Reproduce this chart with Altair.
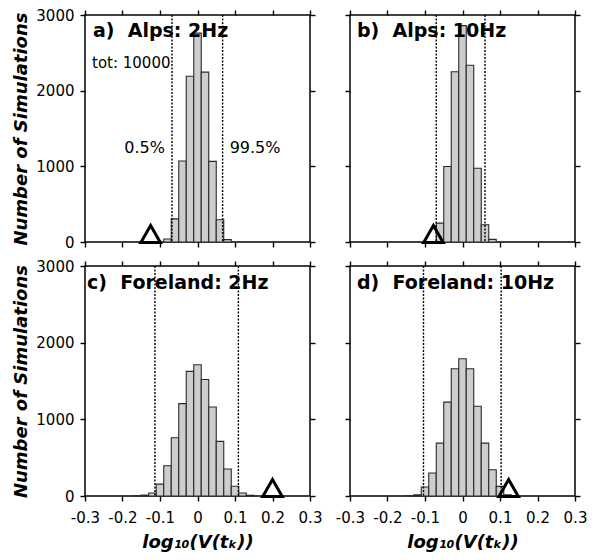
import altair as alt
import pandas as pd

# ---------------- data ----------------
BIN_WIDTH = 0.02

A_CENTERS = [-0.08, -0.06, -0.04, -0.02, 0.0, 0.02, 0.04, 0.06, 0.08]
A_COUNTS = [40, 305, 1070, 2190, 2760, 2245, 1065, 295, 32]

B_CENTERS = [-0.06, -0.04, -0.02, 0.0, 0.02, 0.04, 0.06, 0.08]
B_COUNTS = [250, 997, 2250, 2860, 2335, 975, 228, 35]

C_CENTERS = [-0.16, -0.14, -0.12, -0.10, -0.08, -0.06, -0.04, -0.02, 0.0,
             0.02, 0.04, 0.06, 0.08, 0.10, 0.12, 0.14]
C_COUNTS = [5, 12, 40, 155, 395, 760, 1205, 1625, 1712,
            1520, 1160, 712, 352, 128, 40, 10]

D_CENTERS = [-0.14, -0.12, -0.10, -0.08, -0.06, -0.04, -0.02, 0.0,
             0.02, 0.04, 0.06, 0.08, 0.10, 0.12, 0.14]
D_COUNTS = [5, 15, 117, 300, 690, 1225, 1660, 1790,
            1660, 1170, 690, 343, 126, 15, 5]

PANEL_TITLES = ["a)\u00a0 Alps: 2Hz", "b)\u00a0 Alps: 10Hz",
                "c)\u00a0 Foreland: 2Hz", "d)\u00a0 Foreland: 10Hz"]
P_LOW = [-0.068, -0.070, -0.1135, -0.104]    # 0.5 % percentile
P_HIGH = [0.067, 0.060, 0.109, 0.103]        # 99.5 % percentile
OBSERVED = [-0.125, -0.0775, 0.200, 0.123]   # triangle markers

TOTAL_LABEL = "tot: 10000"
PCT_LABELS = ["0.5%", "99.5%"]

X_TICKS = [-0.3, -0.2, -0.1, 0.0, 0.1, 0.2, 0.3]
Y_TICKS = [0, 1000, 2000, 3000]
X_DOMAIN = [-0.3, 0.3]
Y_DOMAIN = [0, 3000]

Y_TITLE = "Number of Simulations"
X_TITLE = "log\u2081\u2080(V(t\u2096))"

FONT = "DejaVu Sans"

CENTERS = [A_CENTERS, B_CENTERS, C_CENTERS, D_CENTERS]
COUNTS = [A_COUNTS, B_COUNTS, C_COUNTS, D_COUNTS]
TITLE_DX = [8, 7, 2, 7]
TITLE_DY = [22, 22, 23, 23]

xs = alt.Scale(domain=X_DOMAIN, nice=False, zero=False)
ys = alt.Scale(domain=Y_DOMAIN, nice=False)

LABEL_EXPR = ("datum.value == 0 ? '0' : (datum.value < 0 ? '-' : '') + "
              "format(abs(datum.value), '.1f')")


def panel(i, show_x, show_y, height):
    bins = pd.DataFrame({
        "x0": [c - BIN_WIDTH / 2 for c in CENTERS[i]],
        "x1": [c + BIN_WIDTH / 2 for c in CENTERS[i]],
        "count": COUNTS[i],
        "base": [0] * len(COUNTS[i]),
    })

    x_axis = alt.Axis(values=X_TICKS, labels=show_x, labelExpr=LABEL_EXPR,
                      title=X_TITLE if show_x else None, orient="bottom",
                      labelFlush=False, labelOverlap=False, grid=False)
    y_axis = alt.Axis(values=Y_TICKS, labels=show_y, format="d",
                      title=Y_TITLE if show_y else None, orient="left",
                      labelFlush=False, labelOverlap=False, grid=False)

    bars = alt.Chart(bins).mark_rect(
        fill="#cdcdcd", stroke="#2a2a2a", strokeWidth=1.1
    ).encode(
        x=alt.X("x0:Q", scale=xs, axis=x_axis),
        x2="x1:Q",
        y=alt.Y("count:Q", scale=ys, axis=y_axis),
        y2="base:Q",
    )

    # secondary (top / right) tick axes
    frame_df = pd.DataFrame({"fx": [0.0], "fy": [0]})
    frame_axes = alt.Chart(frame_df).mark_point(opacity=0).encode(
        x=alt.X("fx:Q", scale=xs,
                axis=alt.Axis(values=X_TICKS, labels=False, title=None,
                              orient="top", grid=False)),
        y=alt.Y("fy:Q", scale=ys,
                axis=alt.Axis(values=Y_TICKS, labels=False, title=None,
                              orient="right", grid=False)),
    )

    pct_df = pd.DataFrame({"p": [P_LOW[i], P_HIGH[i]]})
    rules = alt.Chart(pct_df).mark_rule(
        color="black", strokeWidth=1.4, strokeDash=[2, 1.5]
    ).encode(x=alt.X("p:Q", scale=xs, axis=None))

    obs_df = pd.DataFrame({"obs": [OBSERVED[i]], "zero": [0]})
    tri = alt.Chart(obs_df).mark_point(
        shape="triangle-up", filled=False, stroke="black", strokeWidth=3,
        size=380, yOffset=-8, opacity=1
    ).encode(
        x=alt.X("obs:Q", scale=xs, axis=None),
        y=alt.Y("zero:Q", scale=ys, axis=None),
    )

    title_df = pd.DataFrame({"t": [PANEL_TITLES[i]]})
    title = alt.Chart(title_df).mark_text(
        align="left", baseline="alphabetic", font=FONT, fontWeight="bold",
        fontSize=19, color="black"
    ).encode(x=alt.value(TITLE_DX[i]), y=alt.value(TITLE_DY[i]), text="t:N")

    layers = [bars, frame_axes, rules, tri, title]

    if i == 0:
        tot_df = pd.DataFrame({"t": [TOTAL_LABEL]})
        tot = alt.Chart(tot_df).mark_text(
            align="left", baseline="alphabetic", font=FONT, fontSize=15,
            color="black"
        ).encode(x=alt.value(7), y=alt.value(53), text="t:N")
        lab_df = pd.DataFrame({"p": [P_LOW[i], P_HIGH[i]],
                               "lab": PCT_LABELS})
        low_lab = alt.Chart(lab_df.iloc[[0]]).mark_text(
            align="right", baseline="alphabetic", font=FONT, fontSize=16,
            dx=-7, color="black"
        ).encode(x=alt.X("p:Q", scale=xs, axis=None), y=alt.value(138),
                 text="lab:N")
        high_lab = alt.Chart(lab_df.iloc[[1]]).mark_text(
            align="left", baseline="alphabetic", font=FONT, fontSize=16,
            dx=7, color="black"
        ).encode(x=alt.X("p:Q", scale=xs, axis=None), y=alt.value(138),
                 text="lab:N")
        layers += [tot, low_lab, high_lab]

    return alt.layer(*layers).resolve_axis(
        x="independent", y="independent"
    ).properties(width=225, height=height)


chart = alt.concat(
    panel(0, False, True, 227), panel(1, False, False, 227),
    panel(2, True, True, 230), panel(3, True, False, 230),
    columns=2, spacing={"row": 24, "column": 40}, bounds="flush",
).properties(
    padding={"left": 12, "top": 7, "right": 4, "bottom": 2},
    background="white",
).configure_view(
    stroke="black", strokeWidth=1.5
).configure_axis(
    domain=False, tickColor="black", tickSize=5, tickWidth=1.4,
    labelFont=FONT, labelFontSize=15, labelColor="black", labelPadding=6,
    titleFont=FONT, titleFontSize=18, titleFontWeight="bold",
    titleFontStyle="italic", titleColor="black", titlePadding=8,
).configure_axisLeft(
    titlePadding=5
).configure_axisBottom(labelPadding=9, titlePadding=8)

chart.save("out.html", embed_options={"renderer": "svg", "actions": False})
